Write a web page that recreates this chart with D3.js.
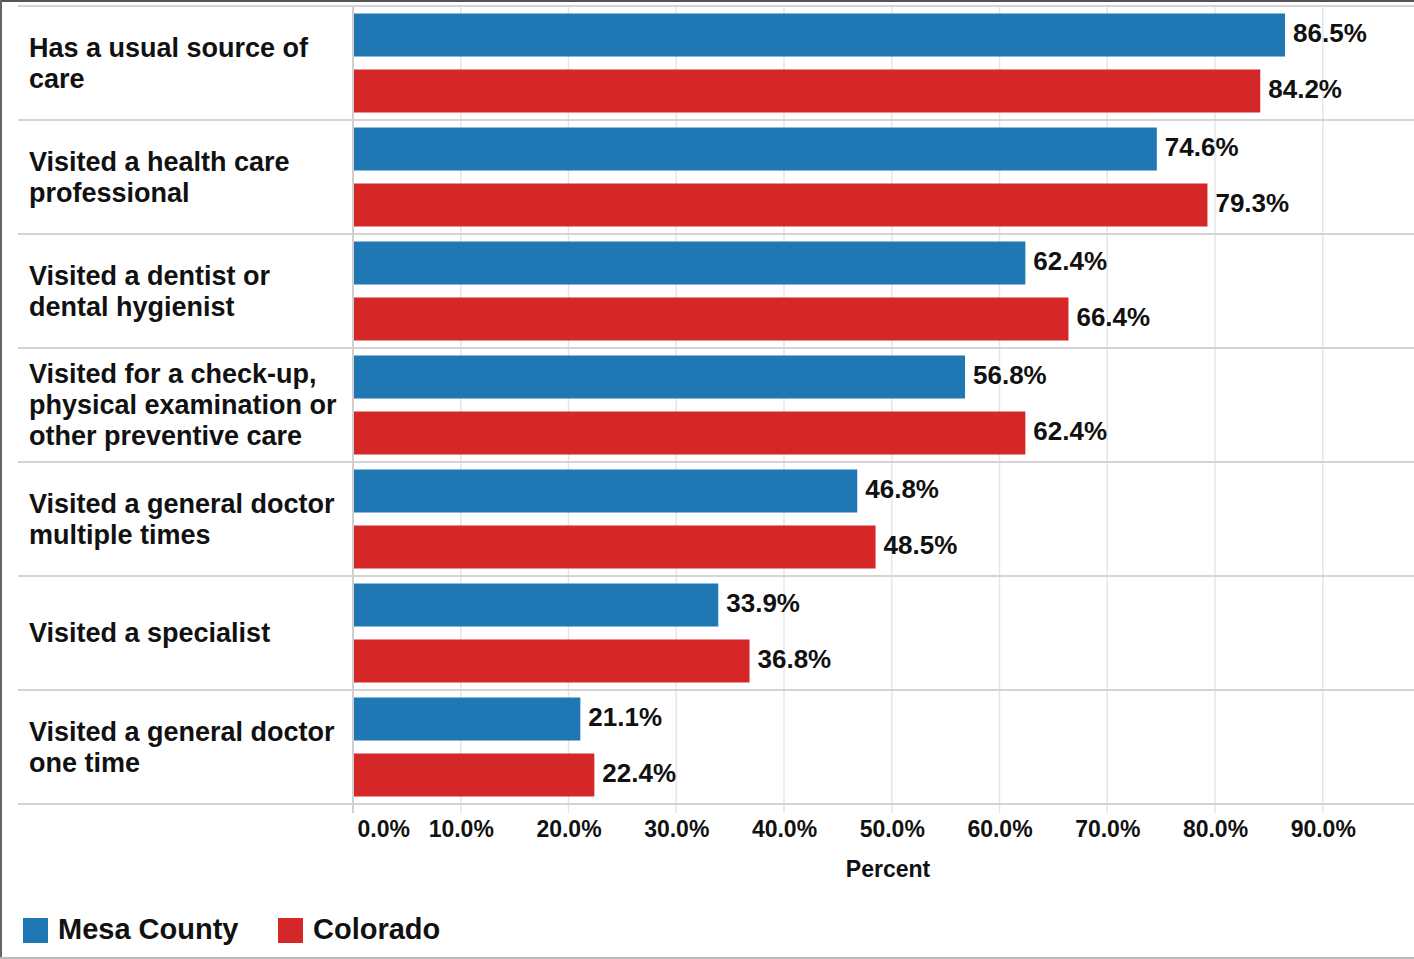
<!DOCTYPE html>
<html>
<head>
<meta charset="utf-8">
<script src="https://cdn.jsdelivr.net/npm/d3@7"></script>
<style>
  html, body { margin: 0; padding: 0; background: #fff; }
  svg { display: block; }
  text { font-family: "Liberation Sans", Arial, sans-serif; font-weight: bold; fill: #111; }
</style>
</head>
<body>
<svg id="chart" width="1414" height="959"></svg>
<script>
// ---- data ----
const categories = [
  "Has a usual source of\ncare",
  "Visited a health care\nprofessional",
  "Visited a dentist or\ndental hygienist",
  "Visited for a check-up,\nphysical examination or\nother preventive care",
  "Visited a general doctor\nmultiple times",
  "Visited a specialist",
  "Visited a general doctor\none time"
];
const seriesNames = ["Mesa County", "Colorado"];
const mesaCounty = [86.5, 74.6, 62.4, 56.8, 46.8, 33.9, 21.1];
const colorado   = [84.2, 79.3, 66.4, 62.4, 48.5, 36.8, 22.4];
const tickValues = [0, 10, 20, 30, 40, 50, 60, 70, 80, 90];
const colors = ["#1f77b4", "#d62728"];

const svg = d3.select("#chart");
const W = 1414, H = 959;

const plotLeft = 353, plotTop = 6, plotBottom = 804;
const x = d3.scaleLinear().domain([0, 100]).range([plotLeft, plotLeft + 1077.5]);
const y = d3.scaleBand().domain(d3.range(categories.length)).range([plotTop, plotBottom]).padding(0);
const yInner = d3.scaleBand().domain([0, 1]).range([0, y.bandwidth()]).paddingInner(13 / 56).paddingOuter(0.134);

// frame
svg.append("rect").attr("x", 0).attr("y", 0).attr("width", W).attr("height", 2).attr("fill", "#555");
svg.append("rect").attr("x", 0).attr("y", 0).attr("width", 2).attr("height", H).attr("fill", "#666");
svg.append("rect").attr("x", 0).attr("y", 957).attr("width", W).attr("height", 2).attr("fill", "#bbb");

// vertical gridlines
svg.append("g").selectAll("line").data(tickValues.slice(1)).join("line")
  .attr("x1", d => x(d)).attr("x2", d => x(d))
  .attr("y1", plotTop).attr("y2", plotBottom + 9)
  .attr("stroke", "#e6e6e6").attr("stroke-width", 1.5);

// row separators
const seps = d3.range(categories.length + 1).map(i => i < categories.length ? y(i) : plotBottom);
svg.append("g").selectAll("line").data(seps).join("line")
  .attr("x1", 18).attr("x2", W)
  .attr("y1", d => d).attr("y2", d => d)
  .attr("stroke", "#d4d4d4").attr("stroke-width", 2);

// axis line at 0
svg.append("line").attr("x1", x(0)).attr("x2", x(0)).attr("y1", plotTop).attr("y2", plotBottom + 9)
  .attr("stroke", "#d0d0d0").attr("stroke-width", 2);

// bars
const series = [mesaCounty, colorado];
const barData = [];
categories.forEach((c, i) => series.forEach((s, k) => barData.push({ i, k, v: s[i] })));

svg.append("g").selectAll("rect").data(barData).join("rect")
  .attr("x", x(0) + 1)
  .attr("y", d => y(d.i) + yInner(d.k))
  .attr("width", d => x(d.v) - x(0) - 1)
  .attr("height", yInner.bandwidth())
  .attr("fill", d => colors[d.k]);

// value labels
svg.append("g").selectAll("text").data(barData).join("text")
  .attr("x", d => x(d.v) + 8)
  .attr("y", d => y(d.i) + yInner(d.k) + yInner.bandwidth() / 2 + 7)
  .attr("font-size", 26)
  .text(d => d.v.toFixed(1) + "%");

// category labels
const catG = svg.append("g");
categories.forEach((c, i) => {
  const lines = c.split("\n");
  const cy = y(i) + y.bandwidth() / 2;
  const t = catG.append("text").attr("font-size", 27);
  lines.forEach((ln, j) => {
    t.append("tspan").attr("x", 29)
      .attr("y", cy + (j - (lines.length - 1) / 2) * 31 + 9)
      .text(ln);
  });
});

// x axis
const axis = d3.axisBottom(x).tickValues(tickValues).tickSize(0).tickPadding(0)
  .tickFormat(d => d.toFixed(1) + "%");
const axG = svg.append("g").attr("transform", `translate(0, ${plotBottom})`).call(axis);
axG.select(".domain").remove();
axG.selectAll("text")
  .attr("font-size", 23).attr("font-family", "Liberation Sans, Arial, sans-serif")
  .attr("font-weight", "bold").attr("fill", "#111")
  .attr("dy", null).attr("y", 33);
axG.selectAll(".tick").filter(d => d === 0).select("text")
  .attr("text-anchor", "start").attr("x", 4);

svg.append("text").attr("x", 888).attr("y", 877).attr("text-anchor", "middle")
  .attr("font-size", 23).text("Percent");

// legend
const legendX = [23, 278];
const lg = svg.append("g");
seriesNames.forEach((n, k) => {
  lg.append("rect").attr("x", legendX[k]).attr("y", 918).attr("width", 25).attr("height", 25).attr("fill", colors[k]);
  lg.append("text").attr("x", legendX[k] + 35).attr("y", 939).attr("font-size", 29).text(n);
});
</script>
</body>
</html>
